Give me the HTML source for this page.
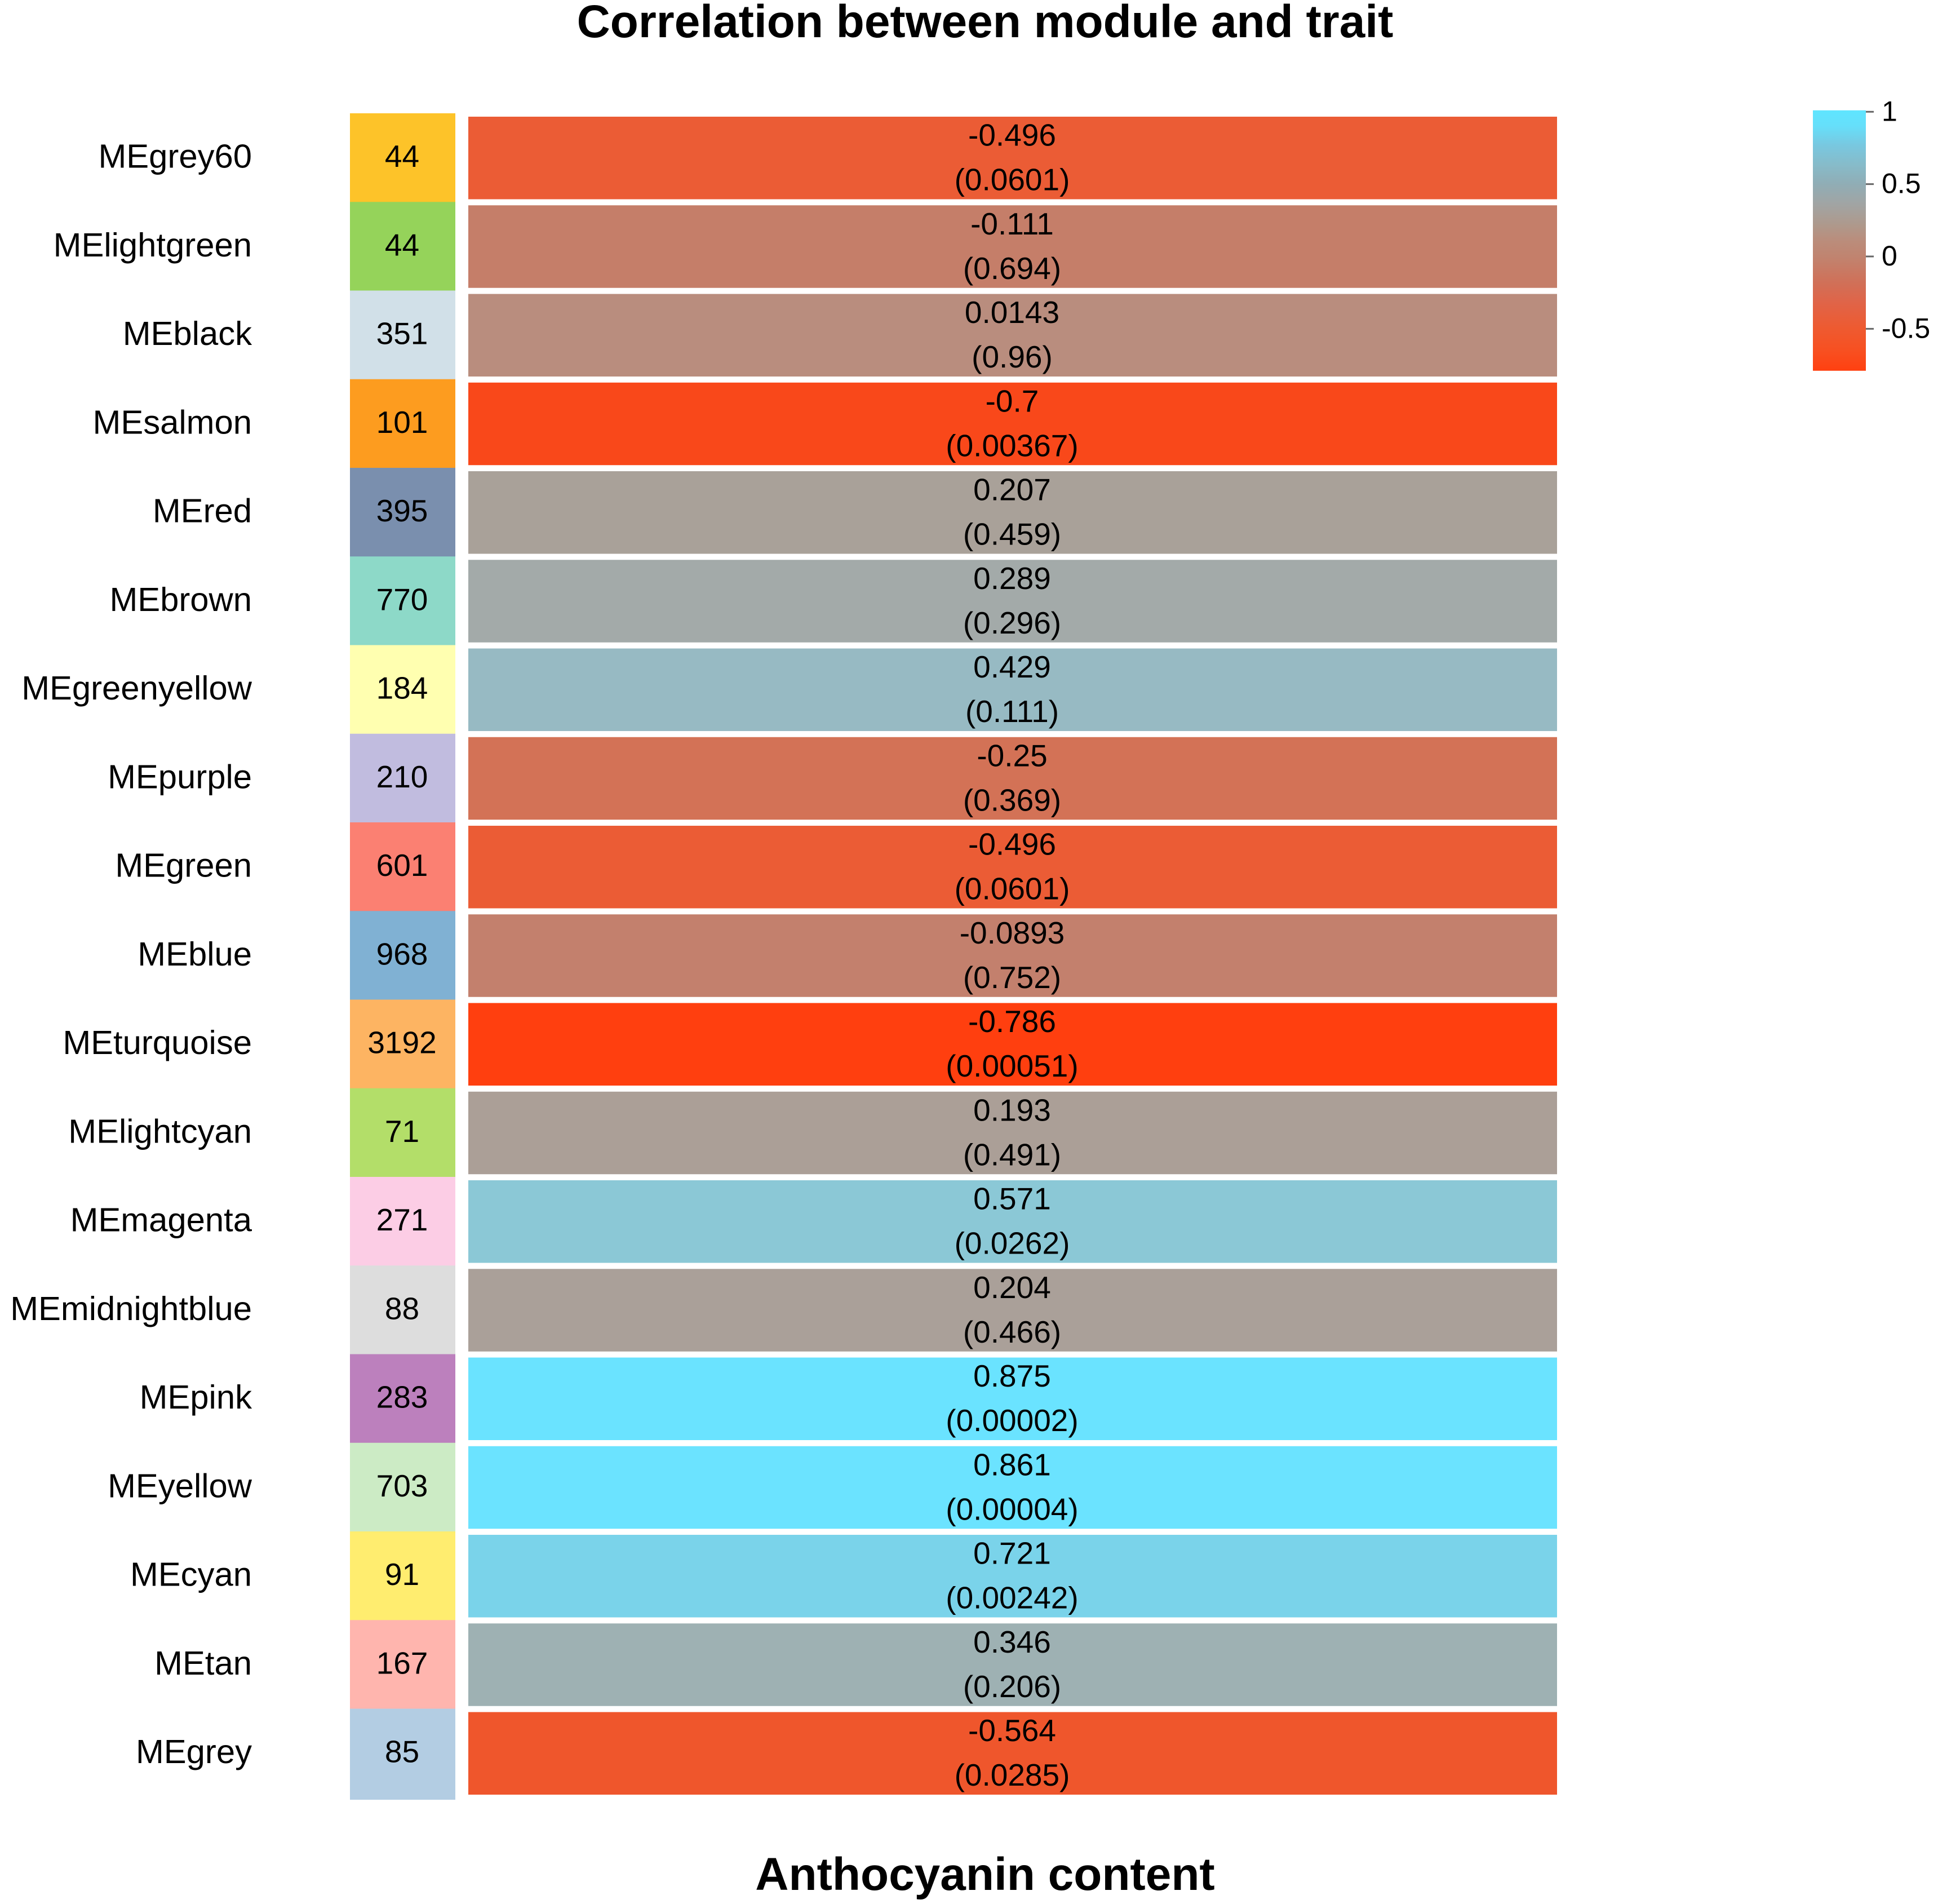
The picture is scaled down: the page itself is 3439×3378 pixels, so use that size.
<!DOCTYPE html>
<html lang="en">
<head>
<meta charset="utf-8">
<title>Correlation between module and trait</title>
<style>
html,body{margin:0;padding:0;background:#fff;}
#chart{display:block;width:3439px;height:3378px;}
text{font-family:"Liberation Sans",Arial,sans-serif;fill:#000;}
</style>
</head>
<body>
<svg id="chart" xmlns="http://www.w3.org/2000/svg" width="3439" height="3378" viewBox="0 0 3439 3378">
  <defs>
    <linearGradient id="legend-gradient" x1="0" y1="1" x2="0" y2="0"></linearGradient>
  </defs>
  <rect x="0" y="0" width="3439" height="3378" fill="#ffffff"></rect>
  <text x="1748" y="66" font-size="82" font-weight="700" text-anchor="middle">Correlation between module and trait</text>
  <text x="1748" y="3353" font-size="82" font-weight="700" text-anchor="middle">Anthocyanin content</text>
  <g id="rows"></g>
  <g id="legend"></g>
</svg>
<script>
const modules = ["MEgrey60","MElightgreen","MEblack","MEsalmon","MEred","MEbrown","MEgreenyellow","MEpurple","MEgreen","MEblue","MEturquoise","MElightcyan","MEmagenta","MEmidnightblue","MEpink","MEyellow","MEcyan","MEtan","MEgrey"];
const moduleSizes = [44,44,351,101,395,770,184,210,601,968,3192,71,271,88,283,703,91,167,85];
const correlations = [-0.496,-0.111,0.0143,-0.7,0.207,0.289,0.429,-0.25,-0.496,-0.0893,-0.786,0.193,0.571,0.204,0.875,0.861,0.721,0.346,-0.564];
const pValues = ["0.0601","0.694","0.96","0.00367","0.459","0.296","0.111","0.369","0.0601","0.752","0.00051","0.491","0.0262","0.466","0.00002","0.00004","0.00242","0.206","0.0285"];
const moduleColors = ["#FDC329","#95D35A","#D1E0E8","#FD9C1F","#7A8FAE","#8DD9C8","#FFFFB0","#C1BCDF","#FB8072","#80B1D3","#FDB462","#B3DE69","#FCCDE5","#DDDDDD","#BC80BD","#CCEBC5","#FFED6F","#FFB5AE","#B3CDE3"];
const legendTicks = [1,0.5,0,-0.5];
const colorDomain = [-0.79,-0.5,-0.1,0.0143,0.2,0.43,0.57,0.72,0.86,1];
const colorRange = ["#FF3F0E","#EB5C34","#C47F6B","#B98D7E","#AAA098","#97BAC3","#8BC8D6","#7AD3EA","#6BE3FF","#66E5FF"];
const legendStopValues = [-0.79,-0.66,-0.5,-0.32,-0.18,0,0.1,0.23,0.37,0.5,0.63,0.77,0.9,1.01];
const legendStopColors = ["#FF4010","#F84F20","#EE5A30","#E06448","#D07058","#C08470","#BB8C7A","#AD9A8E","#A0A5A5","#90ADB5","#87BBC9","#78C8E0","#66DFFA","#5FE5FF"];
const legendMin = -0.79;
const legendMax = 1.01;

const NS = "http://www.w3.org/2000/svg";
const rowsGroup = document.getElementById("rows");
const legendGroup = document.getElementById("legend");

function rowY(i){ return 201 + i * 157.25; }
function legendY(v){ return 455 - v * 256.7; }
function hexToRgb(h){ return [1,3,5].map(function(k){ return parseInt(h.slice(k,k+2),16); }); }
function colorOf(v){
  if (v <= colorDomain[0]) return colorRange[0];
  for (let k = 1; k < colorDomain.length; k++) {
    if (v <= colorDomain[k]) {
      const t = (v - colorDomain[k-1]) / (colorDomain[k] - colorDomain[k-1]);
      const a = hexToRgb(colorRange[k-1]);
      const b = hexToRgb(colorRange[k]);
      return "rgb(" + a.map(function(c,n){ return Math.round(c + (b[n]-c)*t); }).join(",") + ")";
    }
  }
  return colorRange[colorRange.length-1];
}
function make(tag, attrs, parent, content){
  const el = document.createElementNS(NS, tag);
  Object.keys(attrs).forEach(function(k){ el.setAttribute(k, attrs[k]); });
  if (content !== undefined) el.textContent = content;
  parent.appendChild(el);
  return el;
}

modules.forEach(function(name, i){
  const y = rowY(i);
  const label = make("text", {x:447, y:y+96.5, "font-size":59.8, "text-anchor":"end"}, rowsGroup, name);
  
  

  const swatchHeight = i === modules.length - 1 ? 161.5 : 157.75;
  const swatch = make("rect", {x:621, y:y, width:187, height:swatchHeight, fill:moduleColors[i]}, rowsGroup);
  
  

  const size = make("text", {x:713.5, y:y+95, "font-size":55, "text-anchor":"middle"}, rowsGroup, String(moduleSizes[i]));
  
  

  const cell = make("rect", {x:831, y:y+6, width:1932, height:146.5, fill:colorOf(correlations[i])}, rowsGroup);
  
  

  const corr = make("text", {x:1796, y:y+57.5, "font-size":55, "text-anchor":"middle"}, rowsGroup, String(correlations[i]));
  
  

  const p = make("text", {x:1796, y:y+136.5, "font-size":55, "text-anchor":"middle"}, rowsGroup, "(" + pValues[i] + ")");
  
  
});

const gradient = document.getElementById("legend-gradient");
legendStopValues.forEach(function(v, k){
  const offset = (v - legendMin) / (legendMax - legendMin);
  make("stop", {offset:Math.min(1, offset), "stop-color":legendStopColors[k]}, gradient);
});

const legendBar = make("rect", {x:3217, y:legendY(legendMax), width:94, height:legendY(legendMin)-legendY(legendMax), fill:"url(#legend-gradient)"}, legendGroup);



legendTicks.forEach(function(v){
  const y = legendY(v);
  const tick = make("line", {x1:3311, x2:3325, y1:y, y2:y, stroke:"#666666", "stroke-width":3}, legendGroup);
  
  

  const tickLabel = make("text", {x:3339, y:y+16, "font-size":50}, legendGroup, String(v));
  
  
});
</script>
</body>
</html>
